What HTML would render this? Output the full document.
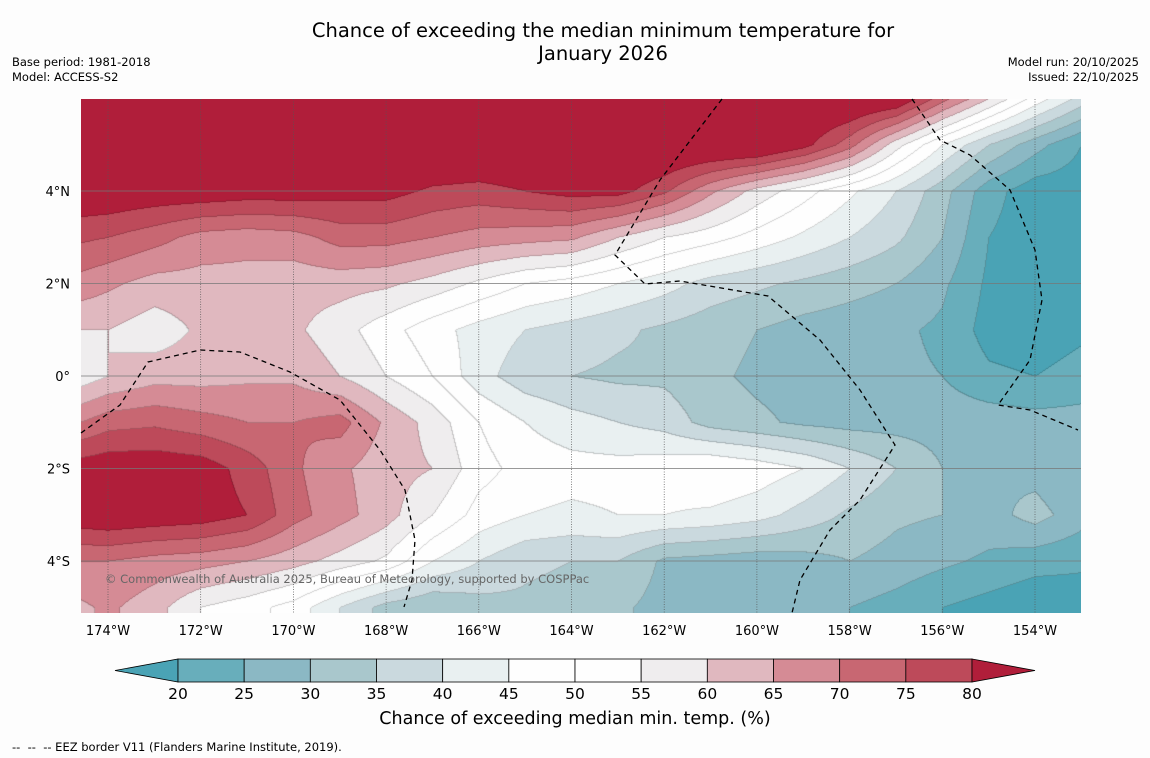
<!DOCTYPE html>
<html><head><meta charset="utf-8"><style>
body{margin:0;background:#fdfdfd;font-family:"DejaVu Sans","Liberation Sans",sans-serif;}
#root{position:relative;width:1150px;height:758px;overflow:hidden;background:#fdfdfd;}
.t{position:absolute;color:#000;white-space:nowrap;}
</style></head><body>
<div id="root">
<div class="t" style="left:0;width:1206px;top:19px;text-align:center;font-size:19.5px;line-height:23px;">Chance of exceeding the median minimum temperature for<br>January 2026</div>
<div class="t" style="left:12px;top:55px;font-size:11.5px;line-height:15px;">Base period: 1981-2018<br>Model: ACCESS-S2</div>
<div class="t" style="right:11px;top:55px;font-size:11.5px;line-height:15px;text-align:right;">Model run: 20/10/2025<br>Issued: 22/10/2025</div>
<canvas id="map" width="1000" height="514" style="position:absolute;left:81px;top:99px;"></canvas>
<svg id="ov" width="1150" height="758" style="position:absolute;left:0;top:0;"></svg>
<div class="t" style="left:105px;top:572px;font-size:11.5px;color:#666;">© Commonwealth of Australia 2025, Bureau of Meteorology, supported by COSPPac</div>
<div class="t" style="left:0;width:1150px;top:709px;text-align:center;font-size:17.5px;">Chance of exceeding median min. temp. (%)</div>
<div class="t" style="left:12px;top:740px;font-size:11.5px;">-- &nbsp;-- &nbsp;-- EEZ border V11 (Flanders Marine Institute, 2019).</div>
</div>
<script>
const lons=[-174.6,-174,-173,-172,-171,-170,-169,-168,-167,-166,-165,-164,-163,-162,-161,-160,-159,-158,-157,-156,-155,-154,-153];
const lats=[6,5,4,3,2,1,0,-1,-2,-3,-4,-5];
const rowN6=[88,88,88,88,88,88,88,88,88,88,88,88,88,88,88,88,88,88,86,72,60,48,38];
const rowN5=[88,88,88,88,88,88,88,88,88,88,88,88,88,88,88,88,82,72,57,45,35,27,20];
const rowN4=[85,85,84,84,83,83,82,82,79,78,80,82,82,76,66,58,52,46,40,32,22,17,17];
const rowN3=[76,75,72,68,67,68,72,72,70,68,67,66,60,55,52,48,44,40,36,30,20,17,17];
const rowN2=[68,66,63,63,63,62,62,61,58,54,50,48,45,42,38,36,34,32,30,26,19,17,18];
const rowN1=[60,60,57,61,62,61,57,52,47,43,40,38,36,34,32,30,28,27,26,24,18,17,19];
const rowEq=[57,60,63,63,64,64,60,55,50,42,37,35,34,34,31,29,28,27,26,25,21,20,22];
const rowS1=[70,73,74,72,70,70,72,64,58,50,45,42,40,38,33,31,29,28,28,28,28,27,27];
const rowS2=[83,84,84,83,78,71,66,62,60,52,48,47,47,48,50,48,45,40,35,30,30,28,25];
const rowS3=[84,85,84,83,80,72,67,62,55,48,45,44,45,45,44,42,38,34,31,30,28,32,27];
const rowS4=[70,70,68,67,65,62,58,54,45,40,36,35,35,29,28,27,28,30,28,26,24,22,21];
const rowS5=[64,66,62,55,52,48,40,33,30,33,34,33,31,28,27,26,26,25,23,20,18,16,17];
const grid=[rowN6,rowN5,rowN4,rowN3,rowN2,rowN1,rowEq,rowS1,rowS2,rowS3,rowS4,rowS5];
const levels=[20,25,30,35,40,45,50,55,60,65,70,75,80];
const colors=['#4aa3b5','#68aebb','#8bb8c4','#a9c7cc','#cad9de','#e9f0f1','#fefefe','#fefefe','#efedee','#e0b8bf','#d58b95','#c86772','#bd4a5a','#b01e3a'];
const tickLons=[-174,-172,-170,-168,-166,-164,-162,-160,-158,-156,-154];
const tickLats=[4,2,0,-2,-4];
const cbTicks=[20,25,30,35,40,45,50,55,60,65,70,75,80];

const X0=81,Y0=99,W=1000,H=514;
const xOf=lon=>108+(lon+174)*46.35;
const yOf=lat=>376-lat*46.25;
const lonOf=x=>(x-108)/46.35-174;
const latOf=y=>(376-y)/46.25;
function interp(arr,v){
  for(let i=0;i<arr.length-1;i++){const a=arr[i],b=arr[i+1];
    if((v-a)*(v-b)<=0){return i+(v-a)/(b-a);} }
  return v<arr[0]===arr[0]<arr[1]?0:arr.length-1;
}
function val(lon,lat){
  let fi=interp(lats,lat),fj=interp(lons,lon);
  fi=Math.max(0,Math.min(lats.length-1.0001,fi));fj=Math.max(0,Math.min(lons.length-1.0001,fj));
  const i=Math.floor(fi),j=Math.floor(fj),u=fi-i,w=fj-j;
  return grid[i][j]*(1-u)*(1-w)+grid[i+1][j]*u*(1-w)+grid[i][j+1]*(1-u)*w+grid[i+1][j+1]*u*w;
}
function lev(v){let k=0;while(k<levels.length&&v>=levels[k])k++;return k;}
function hex(c){return [parseInt(c.slice(1,3),16),parseInt(c.slice(3,5),16),parseInt(c.slice(5,7),16)];}
const rgb=colors.map(hex);
const cv=document.getElementById('map'),ctx=cv.getContext('2d');
const img=ctx.createImageData(W,H);
const L=new Int8Array(W*H);
for(let y=0;y<H;y++)for(let x=0;x<W;x++){L[y*W+x]=lev(val(lonOf(x+X0),latOf(y+Y0)));}
for(let y=0;y<H;y++)for(let x=0;x<W;x++){
  const k=L[y*W+x];let c=rgb[k];
  const edge=(x<W-1&&L[y*W+x+1]!==k)||(y<H-1&&L[(y+1)*W+x]!==k);
  const p=(y*W+x)*4;
  const f=edge?0.82:1;
  img.data[p]=c[0]*f;img.data[p+1]=c[1]*f;img.data[p+2]=c[2]*f;img.data[p+3]=255;
}
ctx.putImageData(img,0,0);

const svg=document.getElementById('ov');const NS='http://www.w3.org/2000/svg';
function mk(tag,attrs,parent){const e=document.createElementNS(NS,tag);for(const k in attrs)e.setAttribute(k,attrs[k]);(parent||svg).appendChild(e);return e;}
const FF='DejaVu Sans, Liberation Sans, sans-serif';
tickLons.forEach(lon=>{
  const x=xOf(lon);
  const l=mk('line',{x1:x,x2:x,y1:Y0,y2:Y0+H,stroke:'#555','stroke-width':0.7,'stroke-dasharray':'1,1.5'});
  
  
  const t=mk('text',{x:x,y:635,'text-anchor':'middle','font-size':13,'font-family':FF});
  t.textContent=Math.abs(lon)+'°W';
  
  
});
tickLats.forEach(lat=>{
  const y=yOf(lat);
  const l=mk('line',{x1:X0,x2:X0+W,y1:y,y2:y,stroke:'#777','stroke-width':0.7});
  
  
  const t=mk('text',{x:70,y:y+5,'text-anchor':'end','font-size':13,'font-family':FF});
  t.textContent=lat===0?'0°':Math.abs(lat)+'°'+(lat>0?'N':'S');
  
  
});
const eez=["M81,433 L120,405 L148,362 L200,350 L240,352 L290,372 L340,400 L380,450 L405,490 L415,540 L412,580 L404,607",
"M722,99 L660,180 L615,255 L645,284 L680,281 L768,296 L820,340 L860,390 L895,445 L860,500 L830,530 L800,580 L792,613",
"M912,99 L940,140 L970,155 L1010,190 L1035,250 L1042,300 L1030,360 L998,405 L1030,410 L1078,430"];
eez.forEach(d=>{const p=mk('path',{d:d,fill:'none',stroke:'#000','stroke-width':1.3,'stroke-dasharray':'5,4'});
  
  });
const cbX=v=>178+(v-20)*(794/60);
const cg=mk('g',{});


mk('polygon',{points:`115,670.5 178,659 178,682`,fill:colors[0],stroke:'#000','stroke-width':0.8},cg);
for(let i=0;i<levels.length-1;i++){
  const r=mk('rect',{x:cbX(levels[i]),y:659,width:cbX(levels[i+1])-cbX(levels[i]),height:23,fill:colors[i+1],stroke:'#000','stroke-width':0.8},cg);
  
  
}
mk('polygon',{points:`972,659 1035,670.5 972,682`,fill:colors[13],stroke:'#000','stroke-width':0.8},cg);
cbTicks.forEach(v=>{const t=mk('text',{x:cbX(v),y:699,'text-anchor':'middle','font-size':15.5,'font-family':FF},cg);
  t.textContent=v;
  
  });
</script>
</body></html>
